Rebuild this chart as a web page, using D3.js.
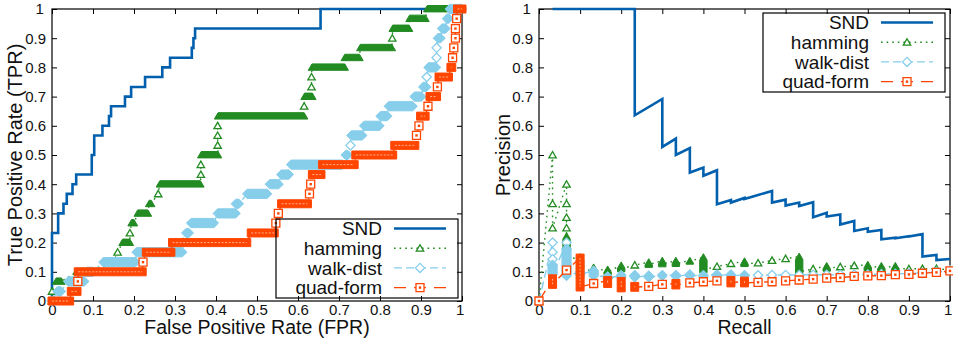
<!DOCTYPE html>
<html>
<head>
<meta charset="utf-8">
<script src="https://cdn.jsdelivr.net/npm/d3@7/dist/d3.min.js"></script>
<style>
  body { margin: 0; background: #fff; }
  svg text { font-family: "Liberation Sans", Arial, Helvetica, sans-serif; fill: #111; }
</style>
</head>
<body>
<svg id="chart" width="953" height="338"></svg>
<script>
// ---- data ----
const seriesNames = ["SND", "hamming", "walk-dist", "quad-form"];
const tickValues = [0, 0.1, 0.2, 0.3, 0.4, 0.5, 0.6, 0.7, 0.8, 0.9, 1];
const tickLabels = ["0", "0.1", "0.2", "0.3", "0.4", "0.5", "0.6", "0.7", "0.8", "0.9", "1"];

// ROC, SND: step curve [FPR, TPR]
const rocSND = [[0,0],[0,0.233],[0.015,0.233],[0.015,0.3],[0.028,0.3],[0.028,0.333],[0.036,0.333],
  [0.036,0.367],[0.05,0.367],[0.05,0.4],[0.059,0.4],[0.059,0.433],[0.097,0.433],[0.097,0.5],
  [0.103,0.5],[0.103,0.567],[0.123,0.567],[0.123,0.6],[0.139,0.6],[0.139,0.633],[0.144,0.633],
  [0.144,0.667],[0.178,0.667],[0.178,0.7],[0.193,0.7],[0.193,0.733],[0.227,0.733],[0.227,0.767],
  [0.269,0.767],[0.269,0.8],[0.288,0.8],[0.288,0.833],[0.341,0.833],[0.341,0.867],[0.345,0.867],
  [0.345,0.9],[0.349,0.9],[0.349,0.933],[0.655,0.933],[0.655,1],[1,1]];

// ROC, other methods: runs of points [FPR from, FPR to, TPR]
const rocHamming = [[0,0,0],[0,0,0.033],[0.01,0.023,0.067],[0.06,0.115,0.1],[0.135,0.15,0.133],
  [0.16,0.16,0.167],[0.172,0.19,0.2],[0.19,0.19,0.233],[0.194,0.2,0.267],[0.209,0.234,0.3],
  [0.237,0.242,0.333],[0.259,0.259,0.367],[0.263,0.362,0.4],[0.363,0.363,0.433],[0.363,0.363,0.467],
  [0.364,0.405,0.5],[0.404,0.404,0.533],[0.404,0.404,0.567],[0.404,0.404,0.6],[0.405,0.615,0.633],
  [0.615,0.615,0.667],[0.616,0.635,0.7],[0.633,0.633,0.733],[0.633,0.633,0.767],[0.634,0.714,0.8],
  [0.714,0.75,0.833],[0.752,0.829,0.867],[0.83,0.83,0.9],[0.831,0.871,0.933],[0.872,0.911,0.967],
  [0.915,1,1]];
const rocWalk = [[0,0,0],[0.013,0.022,0.033],[0.039,0.079,0.067],[0.085,0.1,0.1],[0.125,0.204,0.133],
  [0.206,0.318,0.167],[0.32,0.32,0.2],[0.327,0.334,0.233],[0.339,0.395,0.267],[0.404,0.448,0.3],
  [0.448,0.456,0.333],[0.476,0.525,0.367],[0.531,0.553,0.4],[0.559,0.578,0.433],[0.583,0.708,0.467],
  [0.716,0.722,0.5],[0.728,0.728,0.533],[0.73,0.757,0.567],[0.761,0.799,0.6],[0.801,0.818,0.633],
  [0.821,0.88,0.667],[0.884,0.901,0.7],[0.905,0.913,0.733],[0.914,0.914,0.767],[0.918,0.937,0.8],
  [0.938,0.938,0.833],[0.938,0.938,0.867],[0.941,0.948,0.9],[0.951,0.96,0.933],[0.963,0.968,0.967],
  [0.97,1,1]];
const rocQuad = [[0,0.043,0],[0.047,0.061,0.033],[0.063,0.063,0.067],[0.064,0.22,0.1],[0.222,0.222,0.133],
  [0.23,0.29,0.167],[0.294,0.475,0.2],[0.486,0.542,0.233],[0.546,0.546,0.267],[0.552,0.552,0.3],
  [0.56,0.623,0.333],[0.628,0.628,0.367],[0.631,0.631,0.4],[0.635,0.656,0.433],[0.66,0.737,0.467],
  [0.741,0.831,0.5],[0.836,0.885,0.533],[0.889,0.889,0.567],[0.895,0.895,0.6],[0.899,0.91,0.633],
  [0.917,0.917,0.667],[0.922,0.938,0.7],[0.94,0.94,0.733],[0.944,0.967,0.767],[0.973,0.975,0.8],
  [0.977,0.977,0.833],[0.98,0.98,0.867],[0.984,0.984,0.9],[0.984,0.984,0.933],[0.987,0.987,0.967],
  [0.989,1,1]];

// Precision-recall, SND: [recall, precision]
const prSND = [[0.033,1],[0.233,1],[0.233,0.636],[0.3,0.692],[0.3,0.528],[0.333,0.556],[0.333,0.5],
  [0.367,0.524],[0.367,0.44],[0.4,0.457],[0.4,0.429],[0.433,0.448],[0.433,0.331],[0.467,0.346],
  [0.467,0.337],[0.5,0.353],[0.5,0.349],[0.533,0.363],[0.567,0.377],[0.567,0.337],[0.6,0.347],
  [0.6,0.327],[0.633,0.337],[0.633,0.325],[0.667,0.338],[0.667,0.287],[0.7,0.302],[0.7,0.289],
  [0.733,0.296],[0.733,0.262],[0.767,0.274],[0.767,0.24],[0.8,0.249],[0.8,0.237],[0.833,0.243],
  [0.833,0.211],[0.867,0.217],[0.867,0.215],[0.9,0.222],[0.9,0.221],[0.933,0.229],[0.933,0.152],
  [0.967,0.158],[0.967,0.14],[1,0.144]];

// Precision-recall, other methods: runs [recall, precision from, precision to]
const prHamming = [[0,0,0],[0.033,0.5,0.5],[0.033,0.333,0.333],[0.033,0.25,0.25],[0.067,0.4,0.4],
  [0.067,0.333,0.333],[0.067,0.286,0.286],[0.067,0.25,0.25],[0.067,0.222,0.143],[0.1,0.15,0.09],
  [0.133,0.115,0.105],[0.167,0.108,0.1],[0.2,0.122,0.11],[0.233,0.123,0.123],[0.267,0.133,0.125],
  [0.3,0.138,0.127],[0.333,0.138,0.128],[0.367,0.138,0.136],[0.4,0.15,0.107],[0.433,0.118,0.118],
  [0.467,0.128,0.128],[0.5,0.136,0.128],[0.533,0.13,0.13],[0.567,0.139,0.139],[0.6,0.145,0.145],
  [0.633,0.152,0.1],[0.667,0.11,0.11],[0.7,0.12,0.112],[0.733,0.117,0.117],[0.767,0.121,0.121],
  [0.8,0.124,0.113],[0.833,0.12,0.112],[0.867,0.12,0.112],[0.9,0.11,0.11],[0.933,0.111,0.111],
  [0.967,0.111,0.111],[1,0.106,0.106]];
const prWalk = [[0,0,0],[0.033,0.2,0.2],[0.033,0.167,0.167],[0.033,0.143,0.143],[0.033,0.125,0.09],
  [0.067,0.2,0.2],[0.067,0.18,0.085],[0.1,0.1,0.09],[0.133,0.105,0.085],[0.167,0.085,0.075],
  [0.2,0.09,0.08],[0.233,0.09,0.08],[0.267,0.088,0.08],[0.3,0.09,0.085],[0.333,0.09,0.083],
  [0.367,0.092,0.085],[0.4,0.09,0.083],[0.433,0.092,0.086],[0.467,0.092,0.086],[0.5,0.09,0.086],
  [0.533,0.088,0.088],[0.567,0.089,0.089],[0.6,0.089,0.089],[0.633,0.089,0.089],[0.667,0.09,0.09],
  [0.7,0.09,0.09],[0.733,0.09,0.09],[0.767,0.091,0.091],[0.8,0.091,0.091],[0.833,0.092,0.092],
  [0.867,0.093,0.093],[0.9,0.094,0.094],[0.933,0.096,0.096],[0.967,0.1,0.1],[1,0.105,0.105]];
const prQuad = [[0,0,0],[0.033,0.076,0.057],[0.067,0.106,0.106],[0.1,0.147,0.048],[0.133,0.06,0.06],
  [0.167,0.07,0.06],[0.2,0.067,0.045],[0.233,0.05,0.047],[0.267,0.05,0.05],[0.3,0.057,0.057],
  [0.333,0.06,0.055],[0.367,0.062,0.062],[0.4,0.066,0.066],[0.433,0.069,0.069],[0.467,0.07,0.062],
  [0.5,0.068,0.062],[0.533,0.064,0.064],[0.567,0.066,0.066],[0.6,0.069,0.069],[0.633,0.072,0.072],
  [0.667,0.075,0.075],[0.7,0.078,0.078],[0.733,0.08,0.08],[0.767,0.084,0.084],[0.8,0.086,0.086],
  [0.833,0.087,0.087],[0.867,0.09,0.09],[0.9,0.091,0.091],[0.933,0.095,0.095],[0.967,0.098,0.098],
  [1,0.103,0.103]];

// ---- styles ----
const styles = {
  "SND":       { color: "#0060ad", width: 2.6, dash: null },
  "hamming":   { color: "#228b22", width: 1.4, dash: "1.6,4", marker: "triangle" },
  "walk-dist": { color: "#87ceeb", width: 1.4, dash: "8,4",   marker: "diamond" },
  "quad-form": { color: "#ff4500", width: 1.4, dash: "12,8",  marker: "square" }
};
const markerShapes = {
  triangle: [[-3.7, 2.9], [0, -3.5], [3.7, 2.9]],
  diamond:  [[-4.6, 0], [0, -4.6], [4.6, 0], [0, 4.6]],
  square:   [[-4, -4], [4, -4], [4, 4], [-4, 4]]
};

const svg = d3.select("#chart");
const font = "\"Liberation Sans\", Arial, Helvetica, sans-serif";

function markerPath(shape, cx, cy) {
  return "M" + markerShapes[shape].map(p => [cx + p[0], cy + p[1]].join(",")).join("L") + "Z";
}

// draws one run of (possibly overlapping) markers from p0 to p1
function drawRun(g, st, p0, p1) {
  const same = Math.abs(p0[0] - p1[0]) < 0.5 && Math.abs(p0[1] - p1[1]) < 0.5;
  if (same) {
    g.append("path").attr("d", markerPath(st.marker, p0[0], p0[1]))
      .attr("fill", "#fff").attr("stroke", st.color).attr("stroke-width", 1.3);
    if (st.marker === "square") {
      g.append("rect").attr("x", p0[0] - 1.2).attr("y", p0[1] - 1.2)
        .attr("width", 2.4).attr("height", 2.4).attr("fill", st.color);
    }
    return;
  }
  const pts = [];
  markerShapes[st.marker].forEach(o => {
    pts.push([p0[0] + o[0], p0[1] + o[1]]);
    pts.push([p1[0] + o[0], p1[1] + o[1]]);
  });
  const hull = d3.polygonHull(pts);
  g.append("path").attr("d", "M" + hull.join("L") + "Z")
    .attr("fill", st.color).attr("stroke", st.color).attr("stroke-width", 1);
  if (st.marker === "square") {
    g.append("line").attr("x1", p0[0]).attr("y1", p0[1]).attr("x2", p1[0]).attr("y2", p1[1])
      .attr("stroke", "#ffb090").attr("stroke-width", 1).attr("stroke-dasharray", "2,1.5");
  }
}

function drawPanel(opt) {
  const x = d3.scaleLinear().domain([0, 1]).range([opt.left, opt.right]);
  const y = d3.scaleLinear().domain([0, 1]).range([opt.bottom, opt.top]);
  const g = svg.append("g");

  // frame and ticks (mirrored, pointing inward)
  g.append("rect").attr("x", opt.left).attr("y", opt.top)
    .attr("width", opt.right - opt.left).attr("height", opt.bottom - opt.top)
    .attr("fill", "none").attr("stroke", "#000").attr("stroke-width", 1.2);

  const axes = [
    [d3.axisBottom(x), opt.bottom, 0, true, 3],
    [d3.axisTop(x), opt.top, 0, false, 3],
    [d3.axisLeft(y), 0, opt.left, true, 6],
    [d3.axisRight(y), 0, opt.right, false, 6]
  ];
  axes.forEach(([ax, ty, tx, labelled, pad]) => {
    ax.tickValues(tickValues).tickSize(-5).tickSizeOuter(0).tickPadding(pad)
      .tickFormat((d, i) => labelled ? tickLabels[i] : "");
    const a = g.append("g").attr("transform", `translate(${tx},${ty})`).call(ax);
    a.select(".domain").remove();
    a.selectAll(".tick line").attr("stroke", "#000").attr("stroke-width", 1);
    a.selectAll(".tick text").attr("font-size", 15).attr("font-family", font).attr("fill", "#111");
  });
  // keep the last x label inside the picture
  g.selectAll(".tick text").filter(function () { return this.textContent === "1"; })
    .attr("dx", function () { return this.getAttribute("text-anchor") === "end" ? null : "-0.15em"; });

  // axis titles
  g.append("text").attr("x", (opt.left + opt.right) / 2).attr("y", 334)
    .attr("text-anchor", "middle").attr("font-size", 19.5).text(opt.xTitle);
  g.append("text").attr("transform", `translate(${opt.yTitleX},155) rotate(-90)`)
    .attr("text-anchor", "middle").attr("font-size", 20).text(opt.yTitle);

  // SND line
  g.append("path").datum(opt.snd)
    .attr("d", d3.line().x(d => x(d[0])).y(d => y(d[1])))
    .attr("fill", "none").attr("stroke", styles.SND.color)
    .attr("stroke-width", styles.SND.width).attr("stroke-linejoin", "miter");

  // the three methods with markers
  opt.others.forEach(([name, runs]) => {
    const st = styles[name];
    const segs = runs.map(opt.toSeg);
    const linePts = [];
    segs.forEach(s => { linePts.push(s[0]); linePts.push(s[1]); });
    const sg = g.append("g");
    sg.append("path").datum(linePts)
      .attr("d", d3.line().x(d => x(d[0])).y(d => y(d[1])))
      .attr("fill", "none").attr("stroke", st.color).attr("stroke-width", st.width)
      .attr("stroke-dasharray", st.dash);
    segs.forEach(s => drawRun(sg, st, [x(s[0][0]), y(s[0][1])], [x(s[1][0]), y(s[1][1])]));
  });

  // legend
  const L = opt.legend;
  const lg = g.append("g");
  lg.append("rect").attr("x", L.x).attr("y", L.y).attr("width", 182).attr("height", 79)
    .attr("fill", "none").attr("stroke", "#000").attr("stroke-width", 1.2);
  seriesNames.forEach((name, i) => {
    const st = styles[name];
    const cy = L.y + 9.5 + i * 19.7;
    lg.append("text").attr("x", L.x + 106).attr("y", cy).attr("dy", "0.36em")
      .attr("text-anchor", "end").attr("font-size", 19).text(name);
    lg.append("line").attr("x1", L.x + 118).attr("x2", L.x + 170).attr("y1", cy).attr("y2", cy)
      .attr("stroke", st.color).attr("stroke-width", st.width).attr("stroke-dasharray", st.dash);
    if (st.marker) drawRun(lg, st, [L.x + 144, cy], [L.x + 144, cy]);
  });
}

drawPanel({
  left: 52, right: 462, top: 9, bottom: 301,
  xTitle: "False Positive Rate (FPR)", yTitle: "True Positive Rate (TPR)", yTitleX: 22,
  snd: rocSND,
  others: [["hamming", rocHamming], ["walk-dist", rocWalk], ["quad-form", rocQuad]],
  toSeg: d => [[d[0], d[2]], [d[1], d[2]]],
  legend: { x: 276, y: 219 }
});

drawPanel({
  left: 539, right: 950, top: 9, bottom: 301,
  xTitle: "Recall", yTitle: "Precision", yTitleX: 510,
  snd: prSND,
  others: [["hamming", prHamming], ["walk-dist", prWalk], ["quad-form", prQuad]],
  toSeg: d => [[d[0], d[1]], [d[0], d[2]]],
  legend: { x: 763, y: 13 }
});
</script>
</body>
</html>
